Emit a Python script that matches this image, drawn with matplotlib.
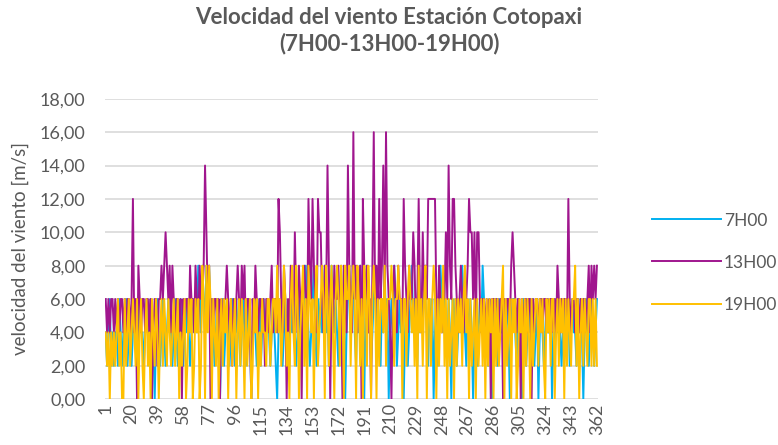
import matplotlib
matplotlib.use("Agg")
from matplotlib import pyplot as plt
from matplotlib.ticker import FuncFormatter
import numpy as np

plt.rcParams['font.family'] = ['Lato', 'DejaVu Sans']

# velocidad del viento [m/s] (dias 1..362)
h07 = [4,2,4,6,2,4,2,4,4,2,6,4,2,4,4,6,2,4,4,2,
       4,6,4,2,4,6,4,4,2,4,6,4,2,6,4,4,0,4,6,4,
       2,4,6,4,2,4,6,4,4,2,4,6,4,2,4,6,4,2,4,4,
       6,4,2,4,6,4,6,4,8,6,4,8,6,4,8,6,8,4,6,4,
       2,4,6,4,0,4,6,2,4,6,4,2,4,6,4,2,6,4,4,2,
       4,6,4,2,4,6,4,0,4,6,4,2,4,6,2,4,6,4,4,6,
       4,2,4,6,4,2,0,4,6,4,2,4,6,4,4,2,6,4,6,4,
       2,4,6,4,2,6,4,8,6,4,2,4,6,8,4,2,6,4,6,4,
       6,8,4,6,2,4,8,6,4,6,4,2,6,8,4,6,0,4,6,8,
       4,6,8,4,2,6,4,8,6,4,0,6,8,4,6,2,4,6,8,4,
       6,4,2,6,4,8,4,6,0,4,6,4,8,6,2,4,6,4,6,0,
       4,6,2,4,6,8,4,6,4,2,6,4,6,4,8,6,4,2,6,4,
       6,0,4,6,2,4,8,6,4,6,4,2,6,4,0,6,4,6,2,4,
       6,4,8,6,4,2,6,4,6,4,0,4,6,2,4,6,4,8,6,4,
       4,2,6,4,0,4,6,4,2,6,4,4,6,2,4,6,4,0,4,6,
       6,4,2,6,4,4,0,6,4,2,4,6,4,4,6,2,4,6,0,4,
       6,4,2,4,6,4,4,6,0,4,2,6,4,6,4,2,4,6,4,4,
       6,2,4,6,4,4,2,6,4,6,4,0,4,6,4,2,4,6,4,2,
       4,6]

h13 = [6,4,6,4,6,6,4,6,4,6,4,6,6,4,6,4,6,6,4,6,
       12,4,6,0,8,6,4,6,6,4,6,6,4,6,0,4,6,6,2,6,
       6,8,6,8,10,8,6,8,4,8,6,4,6,6,4,6,0,6,4,6,
       6,4,8,6,6,4,8,6,4,8,6,6,8,14,10,6,8,0,6,4,
       6,6,4,6,0,6,4,6,6,8,6,4,6,2,6,4,6,8,6,4,
       8,6,8,4,6,6,4,0,6,4,8,6,4,6,6,4,6,2,6,6,
       4,6,8,4,6,6,4,12,10,6,4,8,6,0,6,4,8,6,4,10,
       6,4,8,6,0,6,8,6,4,12,8,6,12,8,6,4,12,10,10,6,
       4,8,6,14,8,0,6,4,8,6,6,8,4,6,0,8,6,4,14,8,
       6,4,16,6,8,4,6,8,0,12,8,6,8,4,6,0,8,16,6,8,
       4,12,6,8,14,6,16,8,6,4,0,6,8,6,4,8,6,6,4,12,
       8,6,4,8,6,6,10,8,4,6,12,6,4,10,6,8,6,12,12,12,
       12,12,12,6,4,8,6,4,6,6,10,6,14,8,6,12,12,8,6,4,
       6,8,6,4,6,6,8,12,10,10,6,10,4,10,10,6,4,6,6,4,
       6,4,6,0,6,6,4,6,6,4,6,6,0,6,4,6,6,4,8,10,
       8,6,4,6,6,0,6,4,6,6,4,6,6,0,6,4,6,6,4,6,
       6,4,6,6,4,6,4,6,6,4,6,4,8,6,4,6,4,6,6,4,
       12,6,4,6,6,4,6,6,4,6,4,6,6,4,6,8,4,8,6,8,
       6,8]

h19 = [4,2,4,0,4,2,4,2,4,6,2,4,0,0,6,2,4,6,2,4,
       6,4,2,6,0,4,6,2,0,4,6,2,4,0,6,4,2,6,4,0,
       4,6,2,6,4,2,6,4,2,4,6,2,4,6,0,4,2,4,6,0,
       2,6,4,6,0,2,6,4,6,0,2,8,6,0,8,4,8,6,0,6,
       4,2,6,0,4,6,2,6,4,6,0,4,6,2,4,6,0,4,6,2,
       6,4,0,6,2,4,6,0,2,6,4,6,0,4,2,6,4,4,2,6,
       6,2,4,6,6,4,8,4,6,2,4,8,6,2,4,0,6,8,4,2,
       8,6,0,4,6,8,2,6,0,8,6,4,6,0,6,8,2,4,6,8,
       6,0,8,6,2,6,8,4,0,6,8,6,2,8,6,0,8,6,6,8,
       2,6,8,6,0,8,6,2,6,0,8,6,2,8,6,0,6,8,6,0,
       6,2,6,6,4,8,2,6,6,6,8,6,2,6,6,8,6,6,0,6,
       6,2,6,8,6,4,6,2,6,0,8,4,6,2,6,8,0,6,6,2,
       6,8,6,0,6,2,6,4,8,2,6,0,6,2,4,6,0,6,2,6,
       4,6,2,6,8,4,6,0,6,2,4,6,0,6,2,4,6,2,6,0,
       6,2,6,4,6,0,6,2,6,2,4,6,8,0,6,2,4,6,0,6,
       4,6,0,2,6,4,6,0,6,2,6,4,0,6,2,4,6,6,2,6,
       4,6,2,0,6,4,6,2,6,6,0,4,6,2,6,4,6,0,6,2,
       6,4,2,6,6,8,2,6,0,4,6,2,6,4,2,6,6,2,6,2,
       6,2]

series = [("7H00", h07, "#00B0F0"), ("13H00", h13, "#A0168E"), ("19H00", h19, "#FFC000")]
xticks = list(range(1, 363, 19))

gris = "#595959"
fig = plt.figure(figsize=(7.78, 4.45), dpi=100)
ax = fig.add_axes([0.135, 0.103, 0.634, 0.675])

for nombre, datos, color in series:
    x = np.arange(1, len(datos) + 1)
    ax.plot(x, datos, color=color, lw=1.4, label=nombre)

ax.set_xlim(0.5, 363)
ax.set_ylim(0, 18)
ax.set_yticks(np.arange(0, 19, 2))
ax.yaxis.set_major_formatter(FuncFormatter(lambda v, p: ("%.2f" % v).replace(".", ",")))
ax.set_xticks(xticks)
ax.set_xticklabels([str(t) for t in xticks], rotation=90)
ax.grid(axis="y", color="#D9D9D9", lw=1.2)
ax.set_axisbelow(True)
for s in ax.spines.values():
    s.set_visible(False)
ax.tick_params(length=0, colors=gris, labelsize=13)
ax.tick_params(axis="y", pad=14)
ax.tick_params(axis="x", pad=3)
ax.set_ylabel("velocidad del viento [m/s]", color=gris, fontsize=13.5, labelpad=8)

fig.suptitle("Velocidad del viento Estación Cotopaxi\n(7H00-13H00-19H00)", x=0.5, y=0.985,
             fontsize=16, fontweight="bold", color=gris, linespacing=1.3)

fig.legend(loc="center left", bbox_to_anchor=(0.838, 0.41), frameon=False, fontsize=12.5,
           handlelength=4.0, labelspacing=1.5, labelcolor=gris, handletextpad=0.15,
           borderpad=0, borderaxespad=0)

fig.savefig("out.png", dpi=100)
